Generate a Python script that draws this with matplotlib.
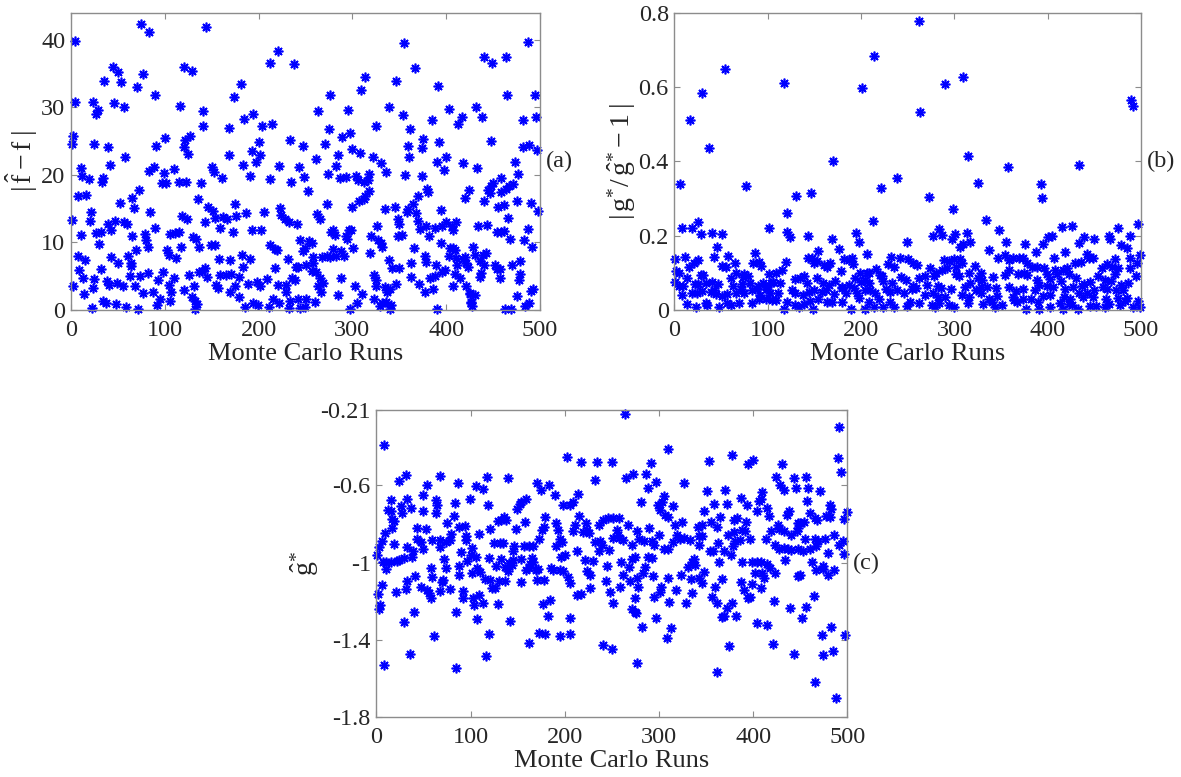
import matplotlib
matplotlib.use("Agg")
import matplotlib.pyplot as plt

# Monte Carlo results: (run, value) per panel
# (a) |f_hat - f|
pts_a = [
    (4,39.8),(75,42.4),(83,41.1),(144,41.9),(221,38.3),(212,36.5),(238,36.4),(45,36.0),(50,35.2),(77,35.0),
    (35,33.9),(53,33.7),(121,35.9),(129,35.4),(70,33.0),(181,33.5),(174,31.5),(90,31.8),(4,30.8),(24,30.8),
    (46,30.7),(29,29.6),(27,29.0),(56,30.1),(116,30.2),(141,29.5),(263,29.4),(194,29.0),(184,28.3),(214,27.5),
    (204,27.2),(141,27.2),(168,26.9),(2,25.8),(1,24.6),(25,24.6),(100,25.5),(127,25.8),(122,25.2),(40,24.1),
    (121,24.2),(91,24.3),(234,25.1),(200,24.9),(247,24.3),(193,23.5),(125,23.1),(202,22.9),(168,23.0),(58,22.7),
    (261,22.3),(197,21.9),(11,21.0),(42,21.4),(83,20.6),(88,21.2),(110,20.9),(150,21.2),(152,20.4),(183,21.5),
    (222,21.3),(243,21.2),(12,19.8),(19,19.4),(34,19.5),(33,19.0),(99,20.3),(161,19.6),(191,19.8),(212,19.4),
    (248,19.7),(235,19.0),(97,18.8),(101,18.8),(115,18.9),(123,19.0),(139,18.8),(72,17.8),(253,17.6),(7,16.9),
    (16,17.0),(135,16.5),(65,16.6),(52,15.9),(67,15.1),(175,15.7),(146,15.2),(151,14.7),(223,15.1),(21,14.5),
    (84,14.5),(187,14.3),(206,14.5),(262,14.2),(1,13.3),(20,13.2),(39,12.8),(47,13.2),(57,13.0),(60,12.7),
    (118,13.9),(124,13.5),(143,13.1),(154,13.6),(162,13.8),(166,13.4),(176,13.9),(224,14.0),(228,13.5),(232,13.0),
    (241,12.8),(11,11.1),(27,11.4),(32,11.6),(43,11.9),(79,11.3),(90,12.2),(106,11.2),(111,11.4),(115,11.5),
    (130,10.8),(133,10.5),(159,12.2),(173,11.6),(193,11.9),(203,11.8),(65,11.0),(80,10.4),(82,9.3),(30,9.7),
    (137,9.3),(149,9.6),(154,9.6),(244,10.4),(254,10.2),(257,9.9),(212,9.6),(217,9.0),(220,8.9),(8,8.0),
    (15,7.4),(43,7.9),(61,8.0),(69,8.9),(102,8.9),(104,8.2),(112,7.7),(117,9.3),(158,7.5),(170,7.4),
    (182,8.2),(191,7.5),(231,7.5),(250,9.2),(247,8.8),(258,7.9),(64,7.0),(9,5.9),(32,6.0),(50,7.0),
    (64,6.5),(98,5.6),(126,5.2),(136,5.6),(140,5.8),(143,6.2),(159,5.2),(165,5.2),(171,5.3),(179,4.9),
    (183,6.3),(218,6.2),(240,6.4),(242,6.3),(251,6.6),(2,3.6),(13,4.7),(25,4.6),(38,4.3),(41,3.7),
    (49,4.0),(55,3.5),(63,5.1),(74,5.1),(68,3.6),(82,5.5),(93,4.5),(105,3.7),(110,4.8),(121,3.0),
    (131,3.5),(145,4.9),(155,3.7),(157,3.3),(175,3.5),(189,3.8),(198,4.1),(202,3.5),(209,4.6),(221,3.7),
    (229,3.7),(236,4.8),(239,4.5),(263,3.6),(14,2.3),(23,3.2),(34,1.3),(37,1.0),(48,0.9),(59,0.5),
    (71,0.1),(77,2.5),(87,2.6),(92,0.7),(95,1.6),(107,2.6),(106,1.3),(129,1.9),(132,1.3),(134,0.9),
    (132,0.2),(170,2.7),(179,2.0),(186,0.5),(194,1.1),(199,0.7),(211,0.5),(215,1.6),(222,1.0),(229,2.6),
    (233,1.4),(232,0.3),(242,1.6),(244,0.3),(251,1.7),(249,0.4),(22,0.3),
    (355,39.5),(487,39.6),(440,37.5),(464,37.5),(449,36.6),(367,35.8),(314,34.5),(347,33.9),(391,33.1),(309,32.5),
    (276,31.8),(465,31.8),(495,31.8),(339,30.1),(295,29.6),(432,30.0),(403,29.8),(354,28.9),(438,28.5),(417,28.6),
    (413,27.5),(385,28.1),(482,28.1),(496,28.5),(325,27.2),(275,26.8),(361,26.8),(298,26.2),(289,25.6),(375,25.3),
    (448,25.0),(392,24.8),(271,24.5),(359,24.3),(300,23.8),(308,23.3),(374,24.0),(482,24.2),(488,24.4),(497,23.7),
    (285,23.0),(322,22.7),(360,22.6),(400,22.6),(330,21.7),(390,21.9),(418,21.7),(283,21.3),(473,21.9),(336,20.5),
    (274,20.1),(398,20.7),(433,21.0),(477,20.1),(287,19.6),(293,19.7),(304,19.9),(306,19.3),(312,19.0),(317,19.2),
    (318,20.1),(356,20.0),(374,19.9),(459,19.6),(471,18.6),(467,18.4),(464,17.9),(450,18.8),(448,18.3),(445,17.7),
    (424,17.7),(380,17.9),(381,17.4),(318,17.6),(314,16.9),(312,16.5),(307,16.2),(370,16.9),(365,15.7),(420,16.6),
    (440,16.1),(447,17.3),(459,17.5),(476,16.1),(490,15.8),(273,15.7),(300,15.2),(335,15.0),(345,15.2),(359,14.9),
    (358,14.5),(394,14.8),(368,14.4),(455,15.2),(462,15.6),(266,13.5),(498,14.6),(349,13.4),(370,13.2),(350,12.7),
    (326,12.5),(378,12.5),(372,12.0),(388,12.2),(396,12.5),(400,13.1),(406,12.4),(410,13.1),(434,12.4),(444,12.6),
    (466,13.6),(277,11.6),(279,11.9),(282,11.1),(293,11.0),(294,10.5),(296,11.8),(299,11.9),(320,11.0),(327,10.3),
    (349,11.0),(353,11.1),(382,11.0),(407,11.9),(454,11.5),(458,11.5),(462,11.7),(468,10.5),(487,12.0),(483,10.4),
    (492,9.4),(279,9.0),(288,8.7),(291,8.0),(301,9.2),(319,8.5),(330,9.9),(332,9.4),(366,9.2),(395,9.9),
    (404,9.2),(407,9.2),(409,8.9),(429,9.3),(431,8.1),(439,8.1),(443,8.4),(268,7.9),(273,8.0),(276,7.9),
    (283,8.0),(258,6.9),(257,5.8),(339,7.4),(342,6.2),(350,6.2),(362,6.9),(377,8.0),(378,7.1),(389,6.6),
    (403,8.0),(411,7.7),(412,6.7),(418,7.5),(421,6.9),(423,6.3),(420,7.8),(399,5.9),(396,5.6),(409,5.4),
    (436,7.2),(440,6.6),(452,6.6),(454,6.0),(457,6.1),(470,6.6),(479,7.3),(261,5.6),(266,4.8),(269,4.0),
    (288,4.8),(303,3.6),(323,5.2),(325,4.5),(325,3.5),(335,3.4),(337,2.7),(340,3.1),(347,3.9),(362,4.9),
    (371,3.9),(383,4.8),(388,5.0),(386,3.1),(377,2.6),(407,3.6),(415,4.8),(421,3.5),(425,2.5),(431,2.2),
    (427,1.2),(436,4.9),(437,5.5),(457,4.8),(479,5.4),(478,4.5),(493,3.1),(490,2.8),(267,2.7),(260,1.2),
    (285,2.2),(297,0.2),(305,1.1),(310,2.4),(323,1.6),(329,0.6),(332,1.0),(336,1.2),(341,0.8),(340,0.1),
    (390,0.2),(425,2.3),(427,1.0),(428,0.6),(463,0.2),(469,0.2),(475,2.1),(484,0.6),(488,1.0),
]

# (b) |g*/g_hat* - 1|
pts_b = [
    (262,0.778),(54,0.648),(117,0.610),(201,0.598),(214,0.683),(30,0.585),(17,0.511),(37,0.437),(263,0.534),(170,0.401),
    (6,0.338),(77,0.334),(239,0.356),(221,0.329),(146,0.316),(130,0.308),(121,0.260),(8,0.222),(19,0.222),(25,0.238),
    (29,0.204),(40,0.208),(51,0.204),(101,0.222),(121,0.211),(124,0.196),(143,0.199),(169,0.190),(195,0.206),(198,0.182),
    (213,0.240),(249,0.184),(46,0.169),(86,0.154),(176,0.163),(154,0.159),(206,0.151),
    (1,0.136),(11,0.142),(25,0.135),(21,0.126),(2,0.106),(5,0.099),(16,0.117),(29,0.093),(31,0.095),(43,0.144),
    (57,0.145),(51,0.118),(55,0.117),(65,0.126),(66,0.100),(75,0.096),(91,0.130),(93,0.119),(84,0.127),(109,0.099),
    (101,0.096),(115,0.109),(120,0.128),(143,0.141),(147,0.141),(150,0.126),(153,0.133),(160,0.121),(164,0.117),(167,0.126),
    (178,0.105),(182,0.136),(187,0.135),(190,0.141),(191,0.124),(199,0.099),(206,0.100),(209,0.099),(216,0.111),(220,0.093),
    (222,0.092),(232,0.142),(229,0.124),(235,0.117),(242,0.141),(250,0.136),(256,0.126),(260,0.121),
    (1,0.076),(5,0.065),(9,0.065),(14,0.085),(22,0.070),(25,0.070),(34,0.074),(40,0.075),(47,0.069),(61,0.085),
    (63,0.065),(72,0.070),(74,0.090),(79,0.092),(81,0.072),(90,0.065),(95,0.072),(99,0.057),(104,0.074),(106,0.076),
    (113,0.072),(129,0.083),(135,0.085),(139,0.092),(142,0.072),(153,0.087),(159,0.072),(166,0.067),(172,0.079),(180,0.063),
    (187,0.067),(193,0.087),(200,0.075),(204,0.081),(209,0.074),(224,0.077),(233,0.072),(243,0.090),(248,0.081),(256,0.065),
    (262,0.085),
    (8,0.040),(19,0.047),(24,0.047),(30,0.051),(39,0.048),(42,0.054),(45,0.042),(51,0.038),(56,0.043),(66,0.045),
    (71,0.056),(75,0.047),(83,0.054),(89,0.056),(92,0.040),(98,0.063),(103,0.045),(111,0.045),(126,0.054),(129,0.045),
    (138,0.040),(144,0.049),(150,0.054),(158,0.049),(162,0.054),(171,0.042),(180,0.058),(184,0.047),(192,0.060),(196,0.045),
    (204,0.054),(210,0.054),(215,0.045),(227,0.056),(231,0.049),(239,0.054),(246,0.045),(255,0.056),(259,0.058),
    (14,0.015),(23,0.009),(34,0.020),(35,0.013),(48,0.009),(56,0.018),(61,0.013),(69,0.020),(83,0.018),(91,0.030),
    (98,0.029),(105,0.027),(109,0.027),(117,0.004),(121,0.022),(129,0.013),(133,0.009),(139,0.016),(145,0.024),(148,0.004),
    (154,0.031),(163,0.022),(169,0.022),(180,0.022),(189,0.004),(198,0.033),(204,0.004),(208,0.022),(214,0.009),(219,0.031),
    (224,0.009),(231,0.022),(235,0.009),(249,0.011),(252,0.022),(262,0.018),
    (290,0.607),(309,0.628),(315,0.414),(357,0.386),(434,0.389),(393,0.340),(394,0.302),(325,0.343),(273,0.305),(298,0.271),
    (334,0.242),(348,0.215),(284,0.217),(277,0.200),(287,0.202),(297,0.190),(301,0.204),(306,0.169),(309,0.177),(313,0.206),
    (317,0.184),(337,0.161),(355,0.182),(376,0.177),(387,0.155),(395,0.178),(400,0.197),(405,0.199),(415,0.224),(426,0.226),
    (419,0.155),(434,0.181),(439,0.196),(450,0.190),(466,0.199),(467,0.190),(475,0.222),(478,0.175),(485,0.166),(488,0.200),
    (497,0.231),(499,0.148),(488,0.141),(489,0.565),(491,0.549),
    (289,0.135),(294,0.132),(306,0.137),(308,0.127),(300,0.136),(302,0.117),(322,0.119),(328,0.099),(347,0.141),(354,0.148),
    (359,0.135),(363,0.139),(369,0.141),(374,0.139),(378,0.127),(383,0.117),(388,0.115),(396,0.114),(407,0.141),(408,0.109),
    (416,0.108),(421,0.112),(429,0.126),(436,0.128),(442,0.152),(444,0.139),(449,0.139),(458,0.112),(463,0.124),(469,0.117),
    (472,0.136),(475,0.114),(488,0.112),(496,0.127),
    (269,0.092),(274,0.114),(278,0.092),(280,0.099),(287,0.108),(292,0.112),(302,0.096),(305,0.092),(316,0.099),(325,0.087),
    (330,0.081),(341,0.090),(354,0.094),(359,0.109),(368,0.096),(375,0.099),(378,0.093),(389,0.081),(399,0.096),(402,0.083),
    (410,0.096),(414,0.079),(423,0.096),(430,0.087),(439,0.069),(445,0.076),(454,0.092),(461,0.081),(468,0.079),(472,0.096),
    (479,0.066),(486,0.074),(495,0.092),
    (271,0.067),(282,0.065),(286,0.058),(296,0.056),(311,0.061),(317,0.072),(323,0.054),(328,0.063),(335,0.063),(345,0.058),
    (358,0.061),(366,0.052),(373,0.056),(386,0.054),(391,0.067),(399,0.065),(406,0.063),(418,0.056),(427,0.061),(437,0.065),
    (442,0.047),(450,0.054),(459,0.061),(464,0.057),(473,0.054),(481,0.054),
    (269,0.040),(277,0.045),(282,0.036),(290,0.036),(308,0.040),(316,0.034),(329,0.045),(337,0.031),(346,0.038),(363,0.036),
    (373,0.031),(382,0.031),(395,0.038),(402,0.040),(417,0.034),(424,0.031),(433,0.045),(438,0.036),(448,0.036),(462,0.031),
    (475,0.033),(485,0.033),(497,0.025),
    (276,0.013),(279,0.009),(284,0.018),(294,0.013),(300,0.009),(315,0.018),(331,0.016),(340,0.022),(343,0.009),(351,0.013),
    (364,0.027),(367,0.022),(377,0.004),(390,0.022),(391,0.004),(402,0.009),(413,0.018),(416,0.004),(423,0.016),(426,0.013),
    (432,0.004),(445,0.011),(452,0.011),(461,0.007),(466,0.016),(477,0.013),(483,0.024),(491,0.007),(499,0.007),
]

# (c) g_hat*
pts_c = [
    (8,-0.393),(202,-0.453),(217,-0.479),(234,-0.481),(250,-0.479),(31,-0.545),(24,-0.576),(67,-0.553),(117,-0.559),(140,-0.562),
    (54,-0.597),(87,-0.588),(106,-0.605),(113,-0.621),(170,-0.586),(183,-0.597),(175,-0.626),(232,-0.574),(49,-0.652),(15,-0.678),
    (33,-0.671),(99,-0.671),(159,-0.671),(26,-0.705),(12,-0.728),(16,-0.730),(37,-0.718),(63,-0.676),(64,-0.700),(50,-0.731),
    (83,-0.693),(118,-0.704),(152,-0.697),(154,-0.686),(149,-0.721),(190,-0.652),(198,-0.700),(205,-0.700),(209,-0.688),(214,-0.645),
    (27,-0.745),(63,-0.745),(17,-0.776),(19,-0.783),(82,-0.757),(75,-0.794),(132,-0.781),(135,-0.766),(138,-0.778),(129,-0.783),
    (158,-0.787),(179,-0.761),(215,-0.756),(191,-0.792),(211,-0.807),(222,-0.797),(224,-0.830),(236,-0.804),(241,-0.778),(246,-0.769),
    (251,-0.769),(9,-0.844),(17,-0.821),(43,-0.821),(53,-0.826),(88,-0.813),(94,-0.811),(109,-0.852),(121,-0.825),(148,-0.826),
    (176,-0.832),(178,-0.814),(193,-0.830),(209,-0.835),(219,-0.842),(226,-0.847),(1,-0.959),(3,-0.920),(6,-0.890),(19,-0.901),
    (32,-0.921),(39,-0.937),(43,-0.878),(47,-0.894),(49,-0.928),(59,-0.880),(68,-0.882),(74,-0.894),(78,-0.885),(67,-0.918),
    (79,-0.852),(95,-0.861),(95,-0.882),(90,-0.947),(101,-0.925),(100,-0.959),(125,-0.899),(131,-0.899),(134,-0.899),(146,-0.916),
    (145,-0.942),(157,-0.916),(162,-0.916),(166,-0.914),(173,-0.876),(195,-0.876),(197,-0.894),(191,-0.916),(213,-0.937),(232,-0.895),
    (237,-0.890),(239,-0.906),(247,-0.935),(236,-0.942),(251,-0.870),(7,-0.994),(10,-0.994),(15,-0.994),(22,-0.989),(24,-0.985),
    (29,-0.977),(38,-0.968),(72,-0.980),(88,-1.018),(96,-0.991),(106,-0.968),(120,-0.977),(132,-0.980),(127,-1.015),(136,-1.023),
    (145,-0.987),(154,-0.980),(165,-0.977),(166,-0.994),(163,-1.006),(162,-1.029),(159,-1.037),(144,-1.011),(141,-1.003),(196,-0.968),
    (200,-0.959),(221,-0.987),(230,-0.989),(245,-1.015),(10,-1.035),(58,-1.029),(74,-1.029),(101,-1.054),(107,-1.029),(110,-1.046),
    (140,-1.042),(169,-1.037),(171,-1.034),(185,-1.029),(187,-1.037),(195,-1.037),(198,-1.042),(224,-1.042),(6,-1.117),(33,-1.093),
    (41,-1.067),(59,-1.072),(71,-1.087),(70,-1.098),(88,-1.063),(115,-1.086),(121,-1.089),(130,-1.093),(137,-1.093),(153,-1.101),
    (170,-1.089),(178,-1.087),(203,-1.075),(227,-1.063),(244,-1.093),(205,-1.106),(2,-1.163),(21,-1.153),(31,-1.137),(47,-1.127),
    (54,-1.141),(56,-1.158),(58,-1.181),(67,-1.144),(78,-1.137),(92,-1.146),(92,-1.184),(123,-1.130),(126,-1.132),(103,-1.181),
    (109,-1.167),(213,-1.167),(217,-1.162),(227,-1.132),(248,-1.153),(3,-1.239),(4,-1.219),(40,-1.257),(104,-1.219),(113,-1.210),
    (129,-1.215),(177,-1.212),(184,-1.194),(251,-1.208),(29,-1.305),(85,-1.257),(107,-1.291),(142,-1.302),(182,-1.274),(206,-1.284),
    (61,-1.378),(119,-1.367),(162,-1.416),(173,-1.364),(179,-1.367),(195,-1.381),(205,-1.367),(241,-1.426),(250,-1.448),(36,-1.471),
    (116,-1.483),(8,-1.530),(84,-1.547),
    (264,-0.230),(491,-0.299),(310,-0.410),(377,-0.441),(490,-0.458),(291,-0.483),(353,-0.472),(394,-0.489),(400,-0.469),(431,-0.489),
    (493,-0.533),(265,-0.562),(272,-0.541),(286,-0.539),(297,-0.583),(326,-0.590),(288,-0.614),(351,-0.628),(370,-0.622),(409,-0.635),
    (424,-0.559),(428,-0.597),(433,-0.622),(443,-0.562),(445,-0.614),(456,-0.559),(458,-0.614),(471,-0.631),(281,-0.688),(299,-0.700),
    (303,-0.686),(305,-0.657),(315,-0.705),(358,-0.695),(372,-0.695),(387,-0.666),(393,-0.704),(406,-0.683),(408,-0.671),(404,-0.735),
    (415,-0.718),(457,-0.683),(481,-0.700),(483,-0.721),(301,-0.728),(306,-0.752),(309,-0.766),(348,-0.735),(365,-0.766),(380,-0.780),
    (383,-0.769),(392,-0.787),(417,-0.756),(436,-0.752),(438,-0.731),(448,-0.795),(454,-0.790),(460,-0.745),(465,-0.769),(468,-0.778),
    (477,-0.756),(481,-0.762),(496,-0.776),(499,-0.738),(257,-0.769),(267,-0.807),(277,-0.838),(289,-0.818),(317,-0.807),(324,-0.790),
    (341,-0.813),(346,-0.804),(355,-0.790),(362,-0.816),(373,-0.856),(380,-0.842),(388,-0.830),(391,-0.835),(419,-0.835),(426,-0.804),
    (427,-0.826),(433,-0.838),(440,-0.856),(446,-0.838),(448,-0.821),(450,-0.792),(455,-0.878),(465,-0.878),(469,-0.890),(476,-0.878),
    (486,-0.856),(255,-0.830),(256,-0.856),(258,-0.870),(262,-0.882),(271,-0.908),(279,-0.876),(284,-0.890),(292,-0.890),(295,-0.908),
    (300,-0.859),(305,-0.930),(310,-0.928),(315,-0.894),(319,-0.859),(322,-0.876),(327,-0.873),(333,-0.882),(342,-0.864),(346,-0.861),
    (342,-0.908),(357,-0.942),(354,-0.939),(363,-0.899),(369,-0.942),(376,-0.959),(379,-0.911),(381,-0.887),(386,-0.882),(397,-0.878),
    (413,-0.878),(423,-0.908),(427,-0.928),(433,-0.925),(437,-0.930),(440,-0.933),(447,-0.930),(453,-0.942),(460,-0.928),(467,-0.916),
    (479,-0.951),(491,-0.908),(495,-0.890),(496,-0.956),(260,-0.994),(262,-1.063),(268,-1.020),(271,-0.982),(274,-0.973),(277,-1.080),
    (285,-1.020),(288,-0.973),(293,-0.977),(283,-1.054),(278,-1.124),(294,-1.067),(302,-1.124),(301,-1.150),(310,-1.077),(318,-1.141),
    (323,-1.063),(331,-1.020),(334,-1.084),(335,-0.994),(337,-0.980),(338,-1.011),(342,-1.080),(346,-1.106),(348,-1.046),(359,-1.124),
    (364,-0.994),(367,-1.084),(388,-0.994),(387,-1.098),(390,-1.141),(397,-1.175),(394,-1.184),(399,-0.994),(402,-1.054),(404,-0.994),
    (408,-0.994),(411,-1.080),(409,-1.054),(415,-1.008),(418,-1.025),(399,-1.110),(408,-1.129),(423,-1.054),(434,-0.985),(450,-1.063),
    (447,-1.067),(462,-0.994),(467,-1.037),(474,-1.015),(474,-1.034),(479,-1.063),(486,-1.037),(259,-1.124),(269,-1.094),(274,-1.181),
    (271,-1.239),(274,-1.257),(276,-1.262),(295,-1.175),(311,-1.205),(329,-1.210),(335,-1.158),(356,-1.175),(361,-1.206),(372,-1.236),
    (369,-1.274),(367,-1.282),(377,-1.210),(382,-1.274),(422,-1.198),(439,-1.236),(452,-1.288),(456,-1.227),(464,-1.170),(282,-1.331),
    (297,-1.284),(313,-1.340),(308,-1.391),(404,-1.314),(415,-1.322),(473,-1.374),(483,-1.331),(497,-1.374),(374,-1.431),(421,-1.421),
    (443,-1.474),(474,-1.478),(485,-1.455),(277,-1.521),(362,-1.564),(465,-1.616),(488,-1.699),
]

xticks = [0, 100, 200, 300, 400, 500]
yticks_a = [0, 10, 20, 30, 40]
yticks_b = [0, 0.2, 0.4, 0.6, 0.8]
yticklabels_b = ['0', '0.2', '0.4', '0.6', '0.8']
yticks_c = [-1.8, -1.4, -1, -0.6, -0.21]
yticklabels_c = ['-1.8', '-1.4', '-1', '-0.6', '-0.21']

plt.rcParams['font.family'] = ['Liberation Serif', 'DejaVu Serif']
plt.rcParams['mathtext.fontset'] = 'custom'
plt.rcParams['mathtext.rm'] = 'Liberation Serif'
plt.rcParams['mathtext.it'] = 'Liberation Serif:italic'
plt.rcParams['axes.unicode_minus'] = False

fig = plt.figure(figsize=(11.81, 7.77), dpi=100)

ax_a = fig.add_axes([0.0601, 0.601, 0.3971, 0.3826])
ax_b = fig.add_axes([0.571, 0.601, 0.3952, 0.3826])
ax_c = fig.add_axes([0.3187, 0.0768, 0.3989, 0.3955])

frame = '#8c8c8c'
textc = '#262626'


def draw(ax, pts, ylim, yticks, yticklabels, ylabel, tag, ylabel_x):
    runs = [p[0] for p in pts]
    vals = [p[1] for p in pts]
    ax.plot(runs, vals, linestyle='none', marker=(8, 2, 0), markersize=7,
            markeredgewidth=1.2, color='#0000ff', clip_on=False)
    ax.set_xlim(0, 500)
    ax.set_ylim(*ylim)
    ax.set_xticks(xticks)
    ax.set_yticks(yticks)
    ax.set_yticklabels(yticklabels)
    for s in ax.spines.values():
        s.set_color(frame)
        s.set_linewidth(1.0)
    ax.tick_params(direction='in', length=4, width=0.8, color=frame,
                   labelcolor=textc, top=True, right=True, labelsize=17.5)
    ax.tick_params(axis='x', pad=7)
    ax.tick_params(axis='y', pad=4)
    ax.set_xlabel('Monte Carlo Runs', fontsize=19, color=textc, labelpad=1.5)
    ax.set_ylabel(ylabel, fontsize=20, color=textc)
    ax.yaxis.set_label_coords(ylabel_x, 0.5)
    ax.text(1.012, 0.5, tag, transform=ax.transAxes, fontsize=17.5,
            color=textc, ha='left', va='center')


draw(ax_a, pts_a, (0, 44), yticks_a, [str(t) for t in yticks_a],
     r'$|\,\hat{\mathrm{f}}-\mathrm{f}\;|$', '(a)', -0.066)
draw(ax_b, pts_b, (0, 0.8), yticks_b, yticklabels_b,
     r'$|\,\mathrm{g}^{*}/\,\hat{\mathrm{g}}^{*}-1\;|$', '(b)', -0.078)
draw(ax_c, pts_c, (-1.8, -0.21), yticks_c, yticklabels_c,
     r'$\hat{\mathrm{g}}^{*}$', '(c)', -0.118)

fig.savefig('out.png', dpi=100)
